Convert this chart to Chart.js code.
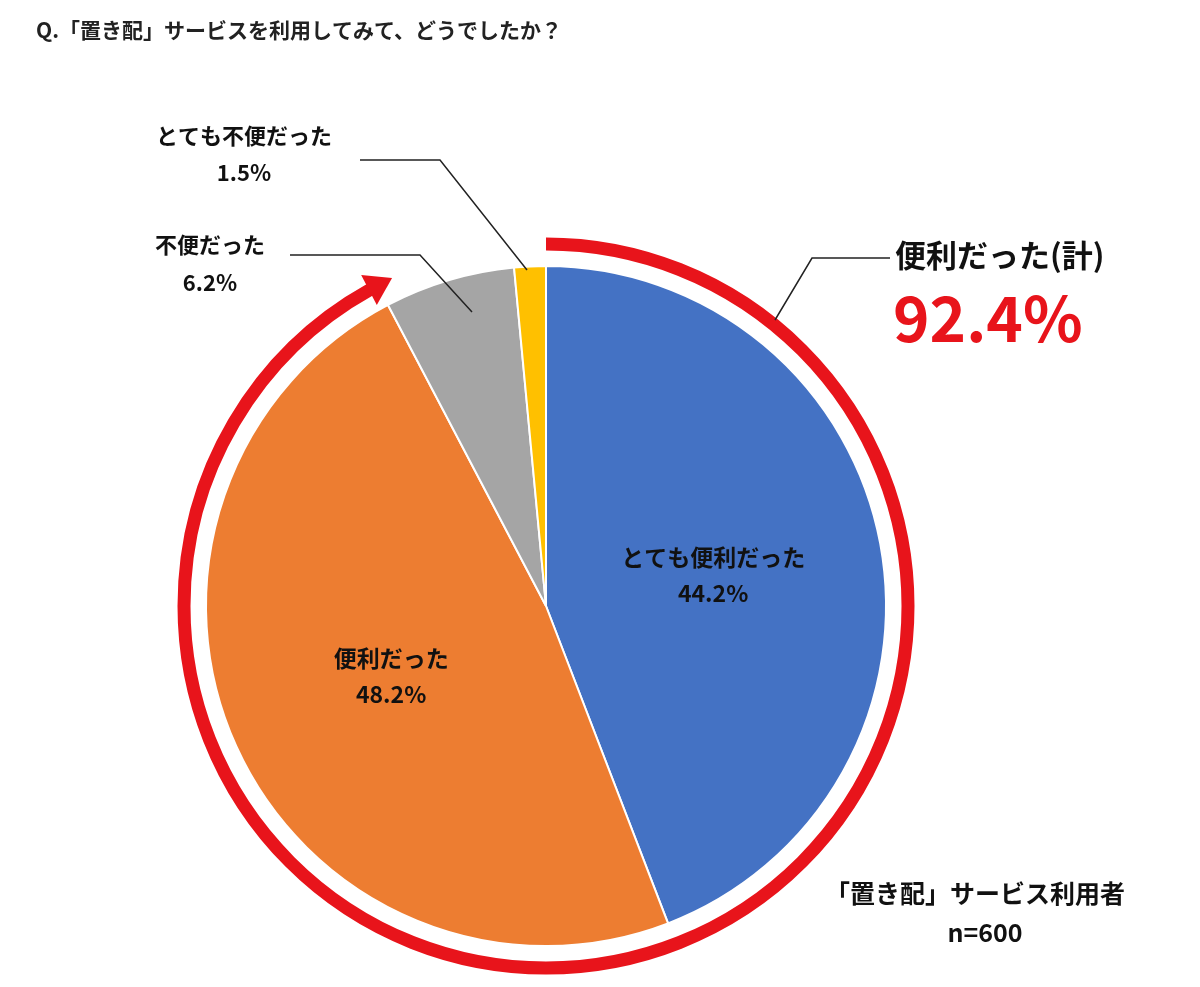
<!DOCTYPE html>
<html><head><meta charset="utf-8">
<script src="https://cdn.jsdelivr.net/npm/chart.js@4/dist/chart.umd.min.js"></script>
<style>html,body{margin:0;padding:0;background:#fff}#wrap{width:1200px;height:987px;position:relative}</style>
</head><body><div id="wrap"><canvas id="c"></canvas></div>
<script>
const categories = ['とても便利だった','便利だった','不便だった','とても不便だった'];
const values = [44.2, 48.2, 6.2, 1.5];
const colors = ['#4472C4','#ED7D31','#A5A5A5','#FFC000'];
const totalLabel = '便利だった(計)';
const totalValue = '92.4%';
const titleText = 'Q.「置き配」サービスを利用してみて、どうでしたか？';
const sampleText = ['「置き配」サービス利用者','n=600'];
const F = '"Noto Sans CJK JP", sans-serif';

const deco = {
  id:'deco',
  afterDatasetsDraw(chart){
    const ctx = chart.ctx;
    const arcs = chart.getDatasetMeta(0).data;
    const cx = arcs[0].x, cy = arcs[0].y, R = arcs[0].outerRadius;
    ctx.save();
    ctx.fillStyle='#222'; ctx.font='bold 21px '+F; ctx.textBaseline='middle'; ctx.textAlign='left';
    ctx.fillText(titleText, 36, 30);
    const rr = R + 22;
    const sumFav = values[0]+values[1];
    const start = -Math.PI/2, end = start + 2*Math.PI*sumFav/100;
    ctx.strokeStyle='#E8141B'; ctx.lineWidth=13; ctx.lineCap='butt';
    ctx.beginPath(); ctx.arc(cx,cy,rr,start,end-0.03); ctx.stroke();
    const ex = cx+rr*Math.cos(end), ey = cy+rr*Math.sin(end);
    const tx = -Math.sin(end), ty = Math.cos(end);
    const nx = Math.cos(end), ny = Math.sin(end);
    ctx.fillStyle='#E8141B';
    ctx.beginPath();
    ctx.moveTo(ex+tx*14, ey+ty*14);
    ctx.lineTo(ex-tx*12+nx*17, ey-ty*12+ny*17);
    ctx.lineTo(ex-tx*12-nx*17, ey-ty*12-ny*17);
    ctx.closePath(); ctx.fill();
    ctx.fillStyle='#111'; ctx.font='bold 23px '+F; ctx.textAlign='center';
    for (let i=0;i<2;i++){
      const a = arcs[i]; const mid=(a.startAngle+a.endAngle)/2; const r=R*0.5;
      const x=cx+r*Math.cos(mid), y=cy+r*Math.sin(mid);
      ctx.fillText(categories[i], x, y-18);
      ctx.fillText(values[i].toFixed(1)+'%', x, y+18);
    }
    ctx.strokeStyle='#222'; ctx.lineWidth=1.5;
    ctx.beginPath(); ctx.moveTo(775,320); ctx.lineTo(812,258); ctx.lineTo(890,258); ctx.stroke();
    ctx.beginPath(); ctx.moveTo(360,160); ctx.lineTo(440,160); ctx.lineTo(527,270); ctx.stroke();
    ctx.beginPath(); ctx.moveTo(290,255); ctx.lineTo(420,255); ctx.lineTo(472,312); ctx.stroke();
    ctx.fillStyle='#111'; ctx.font='bold 22px '+F; ctx.textAlign='center';
    ctx.fillText(categories[3], 244, 136); ctx.fillText(values[3].toFixed(1)+'%', 244, 173);
    ctx.fillText(categories[2], 210, 245); ctx.fillText(values[2].toFixed(1)+'%', 210, 283);
    ctx.textAlign='left';
    ctx.font='bold 31px '+F; ctx.fillText(totalLabel, 895, 255);
    ctx.fillStyle='#E8141B'; ctx.font='bold 62px '+F; ctx.fillText(totalValue, 893, 318);
    ctx.fillStyle='#111'; ctx.font='bold 25px '+F; ctx.textAlign='center';
    ctx.fillText(sampleText[0], 975, 893); ctx.fillText(sampleText[1], 985, 932);
    ctx.restore();
  }
};

new Chart(document.getElementById('c'), {
  type:'pie',
  data:{labels:categories, datasets:[{data:values, backgroundColor:colors, borderColor:'#fff', borderWidth:2}]},
  options:{
    responsive:true, maintainAspectRatio:false, animation:false,
    layout:{padding:{left:205,right:313,top:265,bottom:40}},
    plugins:{legend:{display:false}, tooltip:{enabled:false}}
  },
  plugins:[deco]
});
</script></body></html>
